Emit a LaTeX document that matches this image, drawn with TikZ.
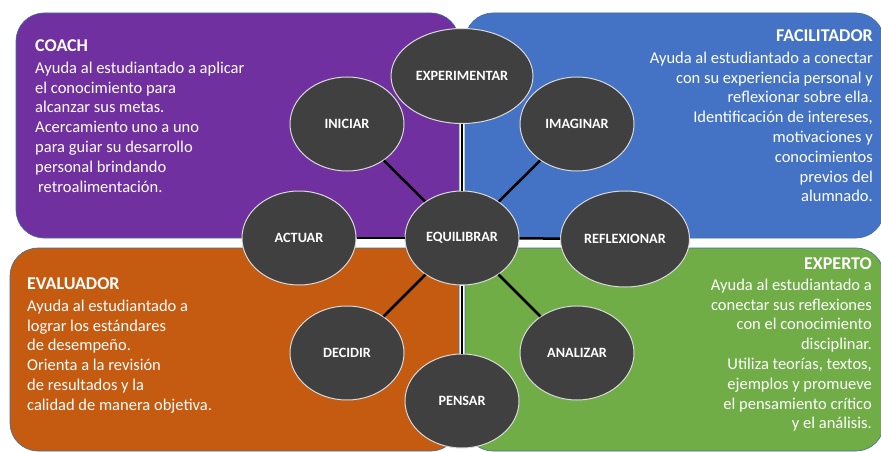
\documentclass[tikz,border=0pt]{standalone}
\usepackage{fontspec}
\setmainfont{Carlito}
\usetikzlibrary{shapes.geometric}
\definecolor{morado}{HTML}{7030A0}
\definecolor{azul}{HTML}{4472C4}
\definecolor{naranja}{HTML}{C55A11}
\definecolor{verde}{HTML}{70AD47}
\definecolor{gris}{HTML}{404040}
\definecolor{borde}{HTML}{41719C}
\newcommand{\rolnombre}[1]{{\fontsize{18}{19.8}\selectfont\bfseries #1}}
\begin{document}
\begin{tikzpicture}[x=1pt,y=-1pt,
  rol/.style={rounded corners=28pt,draw=borde,line width=0.6pt},
  fase/.style={ellipse,draw=white!85!black,line width=1pt,fill=gris,text=white,
    font=\fontsize{14.2}{15}\selectfont\bfseries,minimum width=114pt,minimum height=94pt,inner sep=0pt},
  enlace/.style={line width=2.5pt,black},
  texto/.style={text=white,font=\fontsize{16.5}{19.8}\selectfont,inner sep=0pt}]
 \useasboundingbox (0,0) rectangle (881,452);
 \clip (0,0) rectangle (881,452);
 \fill[white] (0,0) rectangle (881,452);
 \draw[rol,fill=morado](16,13) rectangle (459,238);
 \draw[rol,fill=azul](465,13) rectangle (884,238);
 \draw[rol,fill=naranja](10,248) rectangle (459,451);
 \draw[rol,fill=verde](465,248) rectangle (884,451);
 \node[texto,anchor=north west,align=left] (coach) at (35,39)
  {\rolnombre{COACH}\\[2.5pt]Ayuda al estudiantado a aplicar\\el conocimiento para\\alcanzar sus metas.\\Acercamiento uno a uno\\para guiar su desarrollo\\personal brindando\\\hspace{3pt}retroalimentación.};
 \node[texto,anchor=north east,align=right] (facil) at (873,29)
  {\rolnombre{FACILITADOR}\\[2.5pt]Ayuda al estudiantado a conectar\\con su experiencia personal y\\reflexionar sobre ella.\\Identificación de intereses,\\motivaciones y\\conocimientos\\previos del\\alumnado.};
 \node[texto,anchor=north west,align=left] (eval) at (27,277)
  {\rolnombre{EVALUADOR}\\[2.5pt]Ayuda al estudiantado a\\lograr los estándares\\de desempeño.\\Orienta a la revisión\\de resultados y la\\calidad de manera objetiva.};
 \node[texto,anchor=north east,align=right] (experto) at (872,257)
  {\rolnombre{EXPERTO}\\[1.5pt]Ayuda al estudiantado a\\conectar sus reflexiones\\con el conocimiento\\disciplinar.\\Utiliza teorías, textos,\\ejemplos y promueve\\el pensamiento crítico\\y el análisis.};
 \node[fase] (ini) at (347,124) {INICIAR};
 \node[fase] (ima) at (577,124) {IMAGINAR};
 \node[fase,minimum width=142pt,minimum height=95pt] (exp) at (462,76) {EXPERIMENTAR};
 \node[fase] (act) at (299,238) {ACTUAR};
 \node[fase] (equ) at (462,238) {EQUILIBRAR};
 \node[fase,minimum width=129pt,minimum height=96pt] (ref) at (625,239) {REFLEXIONAR};
 \node[fase] (dec) at (347,353) {DECIDIR};
 \node[fase] (ana) at (577,353) {ANALIZAR};
 \node[fase] (pen) at (462,401) {PENSAR};
 \draw[enlace] (equ) -- (exp);
 \draw[enlace] (equ) -- (pen);
 \draw[enlace] (equ) -- (act);
 \draw[enlace] (equ) -- (ref);
 \draw[enlace] (equ) -- (ini);
 \draw[enlace] (equ) -- (ima);
 \draw[enlace] (equ) -- (dec);
 \draw[enlace] (equ) -- (ana);
\end{tikzpicture}
\end{document}
